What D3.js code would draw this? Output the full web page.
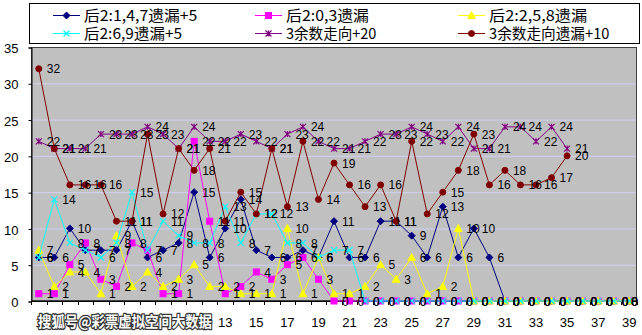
<!DOCTYPE html>
<html><head><meta charset="utf-8">
<script src="https://d3js.org/d3.v7.min.js"></script>
<style>body{margin:0;background:#fff}svg{display:block}</style>
</head><body><svg id="c" width="642" height="335"></svg>
<script>
const categories = [1,2,3,4,5,6,7,8,9,10,11,12,13,14,15,16,17,18,19,20,21,22,23,24,25,26,27,28,29,30,31,32,33,34,35,36,37,38,39];
const xTickLabels = [1,3,5,7,9,11,13,15,17,19,21,23,25,27,29,31,33,35,37,39];
const yTicks = [0,5,10,15,20,25,30,35];
const seriesNames = ["后2:1,4,7遗漏+5","后2:0,3遗漏","后2:2,5,8遗漏","后2:6,9遗漏+5","3余数走向+20","3余数走向遗漏+10"];
const s147 = [6,6,10,7,7,7,11,6,7,8,15,6,10,14,7,6,6,7,6,11,6,6,11,11,9,6,13,6,10,6,0,0,0,0,0,0,0,0,0];
const s03  = [1,1,5,8,3,2,8,7,1,1,22,11,1,2,4,3,5,6,3,0,0,0,0,0,0,0,0,0,0,0,0,0,0,0,0,0,0,0,0];
const s258 = [7,2,4,4,1,9,2,4,2,3,5,2,2,1,1,1,10,1,6,1,1,2,5,3,6,1,2,10,0,0,0,0,0,0,0,0,0,0,0];
const s69  = [6,14,8,7,6,8,15,7,11,9,8,8,13,8,12,12,8,8,6,7,7,0,0,0,0,0,0,0,0,0,0,0,0,0,0,0,0,0,0];
const sDir = [22,21,21,21,23,23,23,24,23,21,24,22,22,23,22,21,23,24,22,21,21,22,23,23,24,23,22,24,21,21,24,24,22,24,21];
const sDirMiss = [32,21,16,16,16,11,11,23,12,21,18,21,11,15,12,21,13,22,14,19,16,13,16,11,22,12,15,18,23,16,18,16,16,17,20];
const watermark = "搜狐号@彩票虚拟空间大数据";

const seriesList = [
  {name: seriesNames[0], values: s147, color: "#000080", marker: "diamond"},
  {name: seriesNames[1], values: s03, color: "#FF00FF", marker: "square"},
  {name: seriesNames[2], values: s258, color: "#FFFF00", marker: "triangle"},
  {name: seriesNames[3], values: s69, color: "#00FFFF", marker: "x"},
  {name: seriesNames[4], values: sDir, color: "#800080", marker: "star"},
  {name: seriesNames[5], values: sDirMiss, color: "#800000", marker: "circle"}
];

const svg = d3.select("#c");
const L = 31, R = 637, T = 47, B = 301;
const x = d3.scaleBand().domain(categories).range([L, R]).padding(0);
const cx = c => x(c) + x.bandwidth() / 2;
const y = d3.scaleLinear().domain([0, 35]).range([B, T]);
const numFont = "'Liberation Sans', Arial, sans-serif";
const cjkFont = "'Noto Sans CJK SC', sans-serif";

// plot area
svg.append("rect").attr("x", L).attr("y", T).attr("width", R - L).attr("height", B - T)
  .attr("fill", "#C0C0C0");
svg.append("g").selectAll("line").data(yTicks.filter(t => t > 0 && t < 35)).join("line")
  .attr("x1", L).attr("x2", R).attr("y1", d => y(d) + 0.5).attr("y2", d => y(d) + 0.5)
  .attr("stroke", "#D0D0F4").attr("stroke-width", 1);
svg.append("rect").attr("x", L + 0.5).attr("y", T + 0.5).attr("width", R - L - 1).attr("height", B - T - 1)
  .attr("fill", "none").attr("stroke", "#404040").attr("stroke-width", 1);

// y axis
const yAxis = d3.axisLeft(y).tickValues(yTicks).tickSize(3).tickPadding(10).tickFormat(d3.format("d"));
const gy = svg.append("g").attr("transform", `translate(${L + 0.5},0.5)`).call(yAxis);
gy.select(".domain").attr("stroke", "#000");
gy.selectAll("text").attr("font-family", numFont).attr("font-size", 13).attr("fill", "#000").attr("dy", "0.4em");

// x axis
const boundaries = categories.map(c => x(c)).concat([R]);
const gx = svg.append("g");
gx.append("line").attr("x1", L).attr("x2", R).attr("y1", B + 0.5).attr("y2", B + 0.5).attr("stroke", "#000");
gx.selectAll("line.t").data(boundaries).join("line").attr("class", "t")
  .attr("x1", d => Math.round(d) + 0.5).attr("x2", d => Math.round(d) + 0.5)
  .attr("y1", B).attr("y2", B + 4).attr("stroke", "#000");
gx.selectAll("text").data(xTickLabels).join("text")
  .attr("x", d => cx(d)).attr("y", 327).attr("text-anchor", "middle")
  .attr("font-family", numFont).attr("font-size", 13).attr("fill", "#000").text(d => d);

// markers
function drawMarker(g, type, color, px, py) {
  if (type === "diamond") {
    g.append("path").attr("d", `M${px},${py - 3.5}L${px + 3.5},${py}L${px},${py + 3.5}L${px - 3.5},${py}Z`)
      .attr("fill", color).attr("stroke", color);
  } else if (type === "square") {
    g.append("rect").attr("x", px - 3).attr("y", py - 3).attr("width", 6).attr("height", 6)
      .attr("fill", color).attr("stroke", color);
  } else if (type === "triangle") {
    g.append("path").attr("d", `M${px},${py - 4}L${px + 3.8},${py + 3}L${px - 3.8},${py + 3}Z`)
      .attr("fill", color).attr("stroke", color);
  } else if (type === "x") {
    const r = 3;
    g.append("path").attr("d", `M${px - r},${py - r}L${px + r},${py + r}M${px - r},${py + r}L${px + r},${py - r}`)
      .attr("stroke", color).attr("stroke-width", 1.2).attr("fill", "none");
  } else if (type === "star") {
    const r = 3;
    g.append("path").attr("d", `M${px - r},${py - r}L${px + r},${py + r}M${px - r},${py + r}L${px + r},${py - r}M${px},${py - r}L${px},${py + r}`)
      .attr("stroke", color).attr("stroke-width", 1.2).attr("fill", "none");
  } else if (type === "circle") {
    g.append("circle").attr("cx", px).attr("cy", py).attr("r", 3).attr("fill", color).attr("stroke", color);
  }
}

const line = d3.line().x((d, i) => cx(categories[i])).y(d => y(d));
const plotG = svg.append("g");
seriesList.forEach(s => {
  const g = plotG.append("g");
  g.append("path").datum(s.values).attr("d", line).attr("fill", "none")
    .attr("stroke", s.color).attr("stroke-width", 1);
  s.values.forEach((v, i) => drawMarker(g, s.marker, s.color, cx(categories[i]), y(v)));
});

// data labels
const labG = svg.append("g").attr("font-family", numFont).attr("font-size", 12).attr("fill", "#000");
seriesList.forEach(s => {
  s.values.forEach((v, i) => {
    const txt = String(v);
    const w = txt.length * 6.7;
    let lx = cx(categories[i]) + 8;
    if (lx + w > R + 1) lx = R + 1 - w;
    labG.append("text").attr("x", lx).attr("y", y(v)).attr("dy", "0.38em").text(txt);
  });
});

// legend
svg.append("rect").attr("x", 29.5).attr("y", 3.5).attr("width", 610).attr("height", 40)
  .attr("fill", "#fff").attr("stroke", "#000").attr("stroke-width", 1);
function textWidth(str, cjk, half) {
  let w = 0;
  for (const ch of str) w += ch.charCodeAt(0) > 255 ? cjk : half;
  return w;
}
const legCols = [53, 255, 458];
const legRows = [15.5, 33.5];
seriesList.forEach((s, i) => {
  const col = i % 3, row = Math.floor(i / 3);
  const lx = legCols[col], ly = legRows[row];
  const g = svg.append("g");
  g.append("line").attr("x1", lx).attr("x2", lx + 27).attr("y1", ly).attr("y2", ly)
    .attr("stroke", s.color).attr("stroke-width", 1);
  drawMarker(g, s.marker, s.color, lx + 13.5, ly);
  g.append("text").attr("x", lx + 31).attr("y", ly + 5.5)
    .attr("font-family", cjkFont).attr("font-size", 15).attr("fill", "#000")
    .attr("textLength", textWidth(s.name, 15, 7.6)).attr("lengthAdjust", "spacingAndGlyphs")
    .text(s.name);
});

// watermark
svg.append("text").attr("x", 38).attr("y", 327)
  .attr("font-family", cjkFont).attr("font-size", 15).attr("font-weight", "bold")
  .attr("fill", "#fff").attr("stroke", "#333").attr("stroke-width", 2.5)
  .attr("paint-order", "stroke").attr("stroke-linejoin", "round")
  .attr("textLength", 174).attr("lengthAdjust", "spacingAndGlyphs")
  .text(watermark);
</script></body></html>
